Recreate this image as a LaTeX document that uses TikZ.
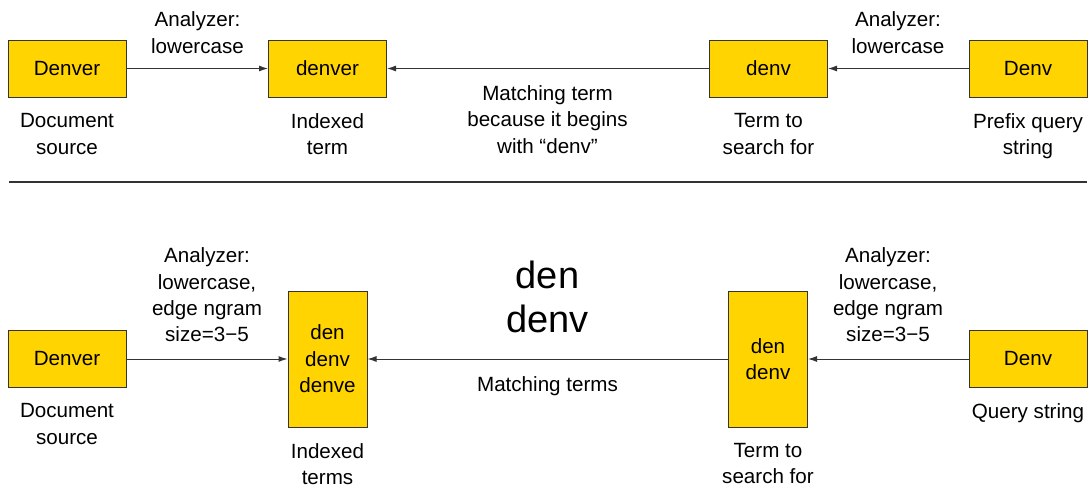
\documentclass[tikz,border=0pt]{standalone}
\usepackage{fontspec}
\setmainfont{Liberation Sans}
\usetikzlibrary{arrows.meta}
\definecolor{termgold}{RGB}{255,212,0}
\definecolor{linegray}{RGB}{51,51,51}

\begin{document}
\begin{tikzpicture}[x=0.5pt,y=-0.5pt,
  every node/.style={font=\fontsize{10.3}{13.2}\selectfont,inner sep=0pt,align=center},
  term/.style={draw=linegray,line width=0.5pt,fill=termgold,minimum width=59pt,minimum height=28.5pt},
  tallterm/.style={term,minimum width=39.5pt,minimum height=68pt},
  flow/.style={draw=linegray,line width=0.5pt,-{Latex[length=4.5pt,width=3pt]}}]
\useasboundingbox (0,0) rectangle (1091,487);
% Prefix query: one indexed term, matched by its start
\node[term] (doc) at (67,68.5) {Denver};
\node[term] (idx) at (327.5,68.5) {denver};
\node[term] (qry) at (768.5,68.5) {denv};
\node[term] (raw) at (1028,68.5) {Denv};
\draw[flow] (doc) -- (idx);
\draw[flow] (qry) -- (idx);
\draw[flow] (raw) -- (qry);
\node (lowA) at (197.5,32.5) {Analyzer:\\lowercase};
\node (lowB) at (898,32.5) {Analyzer:\\lowercase};
\node (match) at (547.5,119.5) {Matching term\\because it begins\\with “denv”};
\node (docCap) at (67,134) {Document\\source};
\node (idxCap) at (327.5,134) {Indexed\\term};
\node (qryCap) at (768.5,134) {Term to\\search for};
\node (rawCap) at (1028,136) {Prefix query\\string};
\draw[linegray,line width=0.6pt] (9,182) -- (1087,182);
% Edge ngrams: several indexed terms, matched exactly
\node[term] (doc2) at (67,359) {Denver};
\node[tallterm] (idx2) at (327.5,359) {den\\denv\\denve};
\node[tallterm] (qry2) at (768,359) {den\\denv};
\node[term] (raw2) at (1028,359) {Denv};
\draw[flow] (doc2) -- (idx2);
\draw[flow] (qry2) -- (idx2);
\draw[flow] (raw2) -- (qry2);
\node (ngramA) at (207,295) {Analyzer:\\lowercase,\\edge ngram\\size=3−5};
\node (ngramB) at (888,295) {Analyzer:\\lowercase,\\edge ngram\\size=3−5};
\node[font=\fontsize{19}{22}\selectfont] (hits) at (547.5,296.5) {den\\denv};
\node[anchor=base] (match2) at (547.5,391) {Matching terms};
\node (docCap2) at (67,424) {Document\\source};
\node (idxCap2) at (327.5,464) {Indexed\\terms};
\node (qryCap2) at (768,463.5) {Term to\\search for};
\node[anchor=base] (rawCap2) at (1028,418) {Query string};
\end{tikzpicture}
\end{document}
